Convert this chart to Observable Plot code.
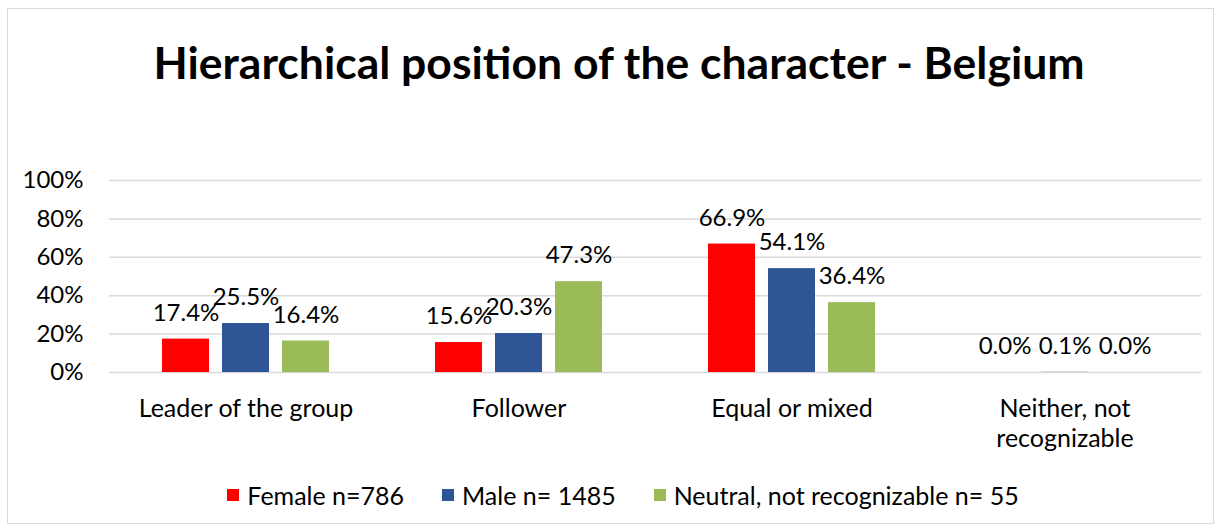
<!DOCTYPE html>
<html>
<head>
<meta charset="utf-8">
<script src="https://cdn.jsdelivr.net/npm/d3@7"></script>
<script src="https://cdn.jsdelivr.net/npm/@observablehq/plot@0.6"></script>
<style>
  html, body { margin: 0; padding: 0; background: #fff; }
  #wrap { position: relative; width: 1222px; height: 529px; overflow: hidden; font-family: Lato, "Open Sans", sans-serif; color: #000; }
  #frame { position: absolute; left: 7px; top: 8px; width: 1207px; height: 516px; border: 1px solid #d9d9d9; box-sizing: border-box; }
  #title { position: absolute; left: 8px; top: 37px; width: 1222px; text-align: center; font-size: 44.5px; font-weight: bold; line-height: 50px; }
  #chart { position: absolute; left: 0; top: 150px; }
  #legend { position: absolute; left: 0; top: 481px; width: 1222px; display: flex; justify-content: center; font-size: 25px; line-height: 28px; padding-left: 24px; box-sizing: border-box; }
  .item { display: flex; align-items: center; margin: 0 19px; }
  .sw { width: 12px; height: 12px; margin-right: 8px; }
</style>
</head>
<body>
<div id="wrap">
  <div id="frame"></div>
  <div id="title">Hierarchical position of the character - Belgium</div>
  <div id="chart"></div>
  <div id="legend"></div>
</div>
<script>
const categories = ["Leader of the group", "Follower", "Equal or mixed", "Neither, not recognizable"];
const categoryLabels = ["Leader of the group", "Follower", "Equal or mixed", "Neither, not\nrecognizable"];
const series = ["Female n=786", "Male n= 1485", "Neutral, not recognizable n= 55"];
const colors = ["#ff0000", "#2f5597", "#9bbb59"];
const female = [17.4, 15.6, 66.9, 0.0];
const male = [25.5, 20.3, 54.1, 0.1];
const neutral = [16.4, 47.3, 36.4, 0.0];
const yTicks = [0, 0.2, 0.4, 0.6, 0.8, 1.0];

const valuesBySeries = [female, male, neutral];
const data = [];
categories.forEach((c, i) => {
  series.forEach((s, j) => {
    data.push({cat: c, series: s, value: valuesBySeries[j][i] / 100, label: valuesBySeries[j][i].toFixed(1) + "%"});
  });
});

const chart = Plot.plot({
  width: 1222,
  height: 310,
  marginLeft: 108,
  marginRight: 20,
  marginTop: 30,
  marginBottom: 88,
  style: {fontFamily: "Lato, 'Open Sans', sans-serif", fontSize: "24px", color: "#000", background: "transparent"},
  fx: {domain: categories, padding: 0, label: null},
  x: {domain: series, paddingInner: 0.213, paddingOuter: 0.848, axis: null},
  y: {domain: [0, 1], label: null},
  color: {domain: series, range: colors},
  marks: [
    Plot.gridY(yTicks, {stroke: "#d9d9d9", strokeOpacity: 1, strokeWidth: 1.5}),
    Plot.barY(data, {fx: "cat", x: "series", y: "value", fill: "series"}),
    Plot.text(data, {fx: "cat", x: "series", y: "value", text: "label", dy: -26, fontSize: 24, fill: "#000"}),
    Plot.axisY(yTicks, {tickFormat: d3.format(".0%"), tickSize: 0, tickPadding: 26, fontSize: 24, label: null}),
    Plot.axisFx({anchor: "bottom", tickSize: 0, tickPadding: 23, fontSize: 25, lineHeight: 1.2, label: null,
      tickFormat: d => categoryLabels[categories.indexOf(d)]})
  ]
});
document.getElementById("chart").appendChild(chart);

const legend = document.getElementById("legend");
series.forEach((s, i) => {
  const item = document.createElement("div");
  item.className = "item";
  const sw = document.createElement("div");
  sw.className = "sw";
  sw.style.background = colors[i];
  const t = document.createElement("span");
  t.textContent = s;
  item.appendChild(sw);
  item.appendChild(t);
  legend.appendChild(item);
});
</script>
</body>
</html>
